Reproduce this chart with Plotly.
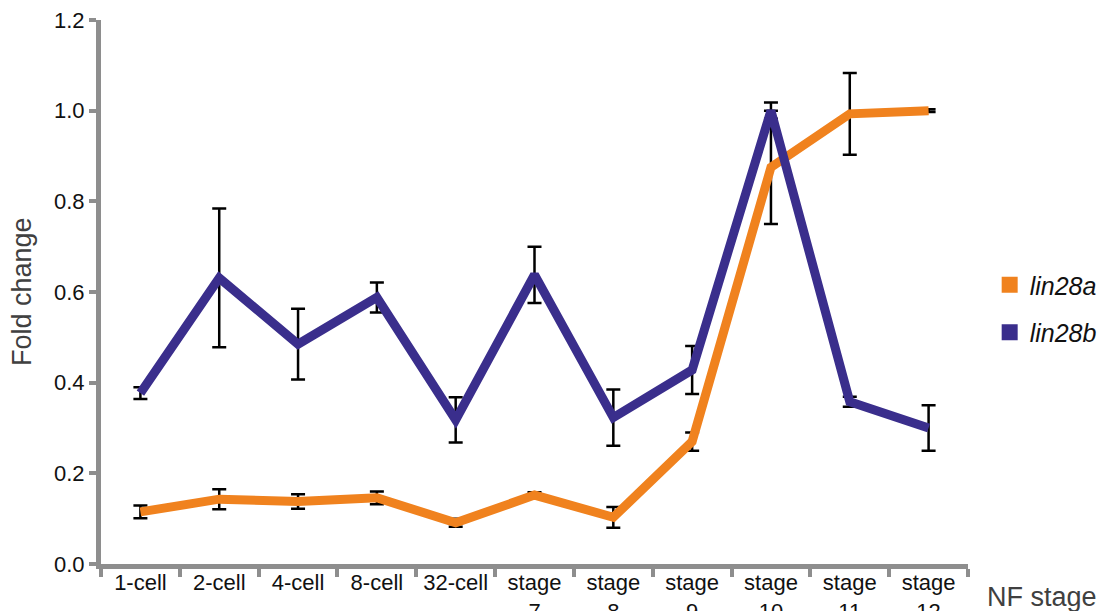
import plotly.graph_objects as go

# Developmental stages (NF staging) on the x axis
stages = ["1-cell", "2-cell", "4-cell", "8-cell", "32-cell",
          "stage<br>7", "stage<br>8", "stage<br>9", "stage<br>10",
          "stage<br>11", "stage<br>12"]

# Relative expression (fold change) with standard error
lin28a = [0.115, 0.143, 0.138, 0.146, 0.091, 0.152, 0.103, 0.270, 0.875, 0.993, 1.000]
lin28a_err = [0.014, 0.022, 0.016, 0.014, 0.009, 0.006, 0.023, 0.020, 0.125, 0.090, 0.003]
lin28b = [0.377, 0.631, 0.485, 0.588, 0.318, 0.638, 0.323, 0.428, 1.000, 0.358, 0.300]
lin28b_err = [0.013, 0.153, 0.078, 0.033, 0.050, 0.062, 0.062, 0.053, 0.018, 0.011, 0.050]

y_ticks = [0.0, 0.2, 0.4, 0.6, 0.8, 1.0, 1.2]

ORANGE = "#F0821E"
PURPLE = "#3A2E8C"
AXIS_GREY = "#8E8E8E"
FONT = "Liberation Sans, Arial, sans-serif"

fig = go.Figure()

# Error bars sit underneath the lines
for vals, errs in ((lin28b, lin28b_err), (lin28a, lin28a_err)):
    fig.add_trace(go.Scatter(
        x=stages, y=vals, mode="markers",
        marker=dict(size=1, opacity=0),
        error_y=dict(type="data", array=errs, visible=True,
                     color="black", thickness=2.5, width=7),
        showlegend=False, hoverinfo="skip",
    ))

# Expression profiles
fig.add_trace(go.Scatter(x=stages, y=lin28a, mode="lines",
                         line=dict(color=ORANGE, width=9),
                         showlegend=False, name="lin28a"))
fig.add_trace(go.Scatter(x=stages, y=lin28b, mode="lines",
                         line=dict(color=PURPLE, width=9),
                         showlegend=False, name="lin28b"))

# Legend entries shown as filled squares
for nm, col in (("<i>lin28a</i>", ORANGE), ("<i>lin28b</i>", PURPLE)):
    fig.add_trace(go.Scatter(x=[None], y=[None], mode="markers", name=nm,
                             legendgroup=nm,
                             marker=dict(symbol="square", size=20, color=col)))

fig.update_layout(
    width=1111, height=611,
    margin=dict(l=101, r=143, t=20, b=47, autoexpand=False),
    paper_bgcolor="white", plot_bgcolor="white",
    font=dict(family=FONT, size=22, color="#111111"),
    legend=dict(x=1.025, y=0.555, xanchor="left", yanchor="top",
                font=dict(size=25, color="#111111"),
                tracegroupgap=12, itemsizing="trace",
                bgcolor="rgba(0,0,0,0)"),
    xaxis=dict(
        type="category", range=[-0.5, 10.5], automargin=False,
        showline=True, linecolor=AXIS_GREY, linewidth=5,
        ticks="outside", tickson="boundaries", ticklen=8,
        tickwidth=4, tickcolor=AXIS_GREY, ticklabelstandoff=-5,
        showgrid=False, zeroline=False,
        tickfont=dict(size=22, color="#111111"),
    ),
    yaxis=dict(
        range=[0, 1.2], tickvals=y_ticks, tickformat=".1f", automargin=False,
        showline=True, linecolor=AXIS_GREY, linewidth=5,
        ticks="outside", ticklen=7, tickwidth=4, tickcolor=AXIS_GREY,
        showgrid=False, zeroline=False,
        tickfont=dict(size=22, color="#111111"),
    ),
    annotations=[
        dict(text="Fold change", xref="paper", yref="paper",
             x=-0.091, y=0.5, xanchor="center", yanchor="middle",
             textangle=-90, showarrow=False,
             font=dict(size=27, color="#404040")),
        dict(text="NF stage", xref="paper", yref="paper",
             x=1.0196, y=-0.061, xanchor="left", yanchor="middle",
             showarrow=False, font=dict(size=27, color="#404040")),
    ],
)

fig.write_html("out.html")
